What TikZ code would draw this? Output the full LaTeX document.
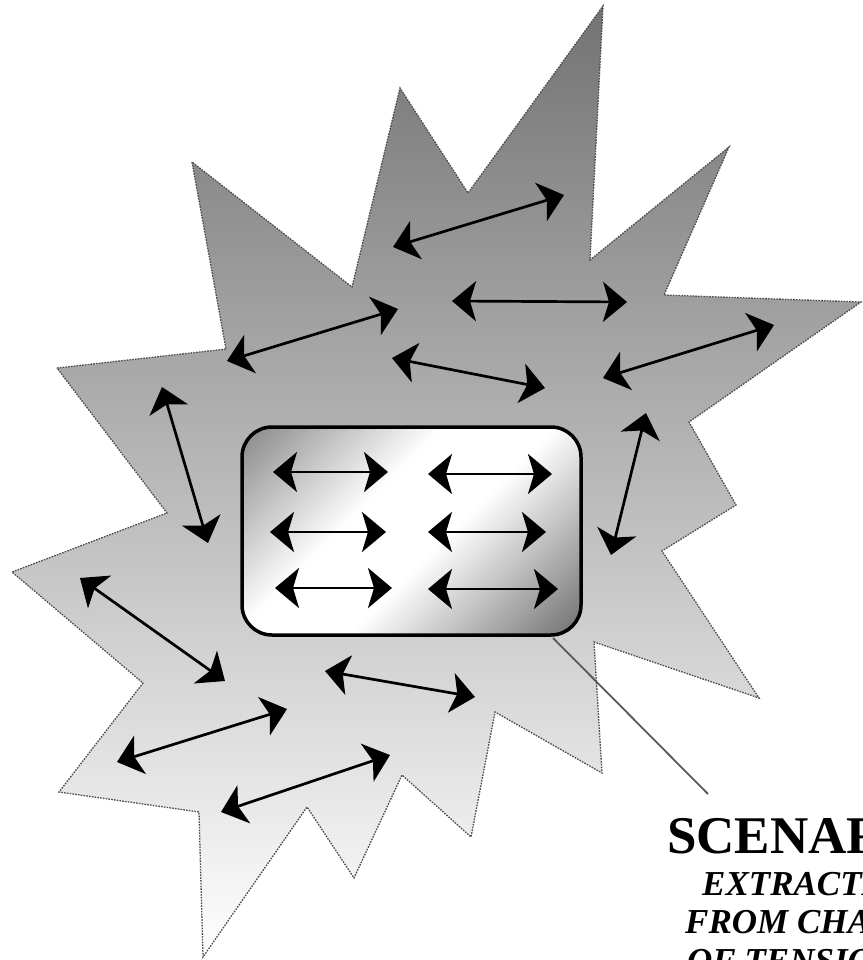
\documentclass[tikz,border=0pt]{standalone}
\usepackage{fontspec}
\setmainfont{Liberation Serif}
\usetikzlibrary{arrows.meta}
\begin{document}
\begin{tikzpicture}[x=1pt,y=-1pt,
  blob/.style={draw=black!70, line width=1.3pt, dash pattern=on 1.6pt off 1.2pt,
               top color=black!55, bottom color=white},
  twoway/.style={line width=2.7pt,
    {Stealth[length=24pt,width=40pt,inset=6pt]}-{Stealth[length=24pt,width=40pt,inset=6pt]}},
  panel/.style={draw=black, line width=3.5pt, rounded corners=30pt,
    minimum width=339pt, minimum height=208pt, inner sep=0pt},
  callout/.style={draw=black!65, line width=1.8pt},
  titletext/.style={anchor=base west, inner sep=0pt, font=\fontsize{53}{60}\selectfont\bfseries},
  subtext/.style={anchor=base west, inner sep=0pt, font=\fontsize{35}{40}\selectfont\bfseries\itshape}
]
\useasboundingbox (0,0) rectangle (862,960);
\clip (0,0) rectangle (862,960);

% outer burst
\path[blob] (57,368) -- (226,349) -- (192,162) -- (352,287) -- (400,88) -- (468,193)
  -- (603,6) -- (590,260) -- (729,147) -- (664,295) -- (861,302) -- (689,422)
  -- (736,505) -- (662,551) -- (759,698) -- (594,642) -- (602,773) -- (495,712)
  -- (471,837) -- (402,775) -- (354,878) -- (307,807) -- (203,957) -- (199,812)
  -- (59,792) -- (143,683) -- (12,572) -- (167,513) -- cycle;

% inner panel: diagonal gray-white-gray fill built from bands
\begin{scope}
  \clip[rounded corners=30pt] (242,427) rectangle (581,635);
  \foreach \i in {0,...,99}{
    \pgfmathsetmacro\ta{-200+4*\i}
    \pgfmathsetmacro\tb{\ta+4.8}
    \pgfmathsetmacro\tm{\ta+2}
    \pgfmathsetmacro\p{\tm<-50 ? 50*(-50-\tm)/150 : (\tm>30 ? 57*(\tm-30)/165 : 0)}
    \fill[black!\p]
      ({411.5+0.7071*\ta+0.7071*260},{531+0.7071*\ta-0.7071*260}) --
      ({411.5+0.7071*\tb+0.7071*260},{531+0.7071*\tb-0.7071*260}) --
      ({411.5+0.7071*\tb-0.7071*260},{531+0.7071*\tb+0.7071*260}) --
      ({411.5+0.7071*\ta-0.7071*260},{531+0.7071*\ta+0.7071*260}) -- cycle;
  }
\end{scope}
\node[panel] (box) at (411.5,531) {};

% arrows inside the panel
\draw[twoway] (273,472) -- (388,472);
\draw[twoway] (428,474) -- (552,474);
\draw[twoway] (270,532) -- (386,532);
\draw[twoway] (428,532) -- (546,532);
\draw[twoway] (275,588) -- (392,588);
\draw[twoway] (428,589) -- (558,589);

% arrows in the burst
\draw[twoway] (393,247) -- (564,195);
\draw[twoway] (452,301) -- (627,302);
\draw[twoway] (227,361) -- (398,309);
\draw[twoway] (392,358) -- (545,388);
\draw[twoway] (603,378) -- (774,325);
\draw[twoway] (162,387) -- (208,543);
\draw[twoway] (646,413) -- (611,555);
\draw[twoway] (80,578) -- (225,681);
\draw[twoway] (325,671) -- (475,697);
\draw[twoway] (117,762) -- (287,709);
\draw[twoway] (221,812) -- (390,755);

% callout
\coordinate (cstart) at (553,638);
\coordinate (cend) at (708,794);
\draw[callout] (cstart) -- (cend);

% caption
\node[titletext] (title) at (667,853) {SCENAR};
\node[subtext] (l1) at (702,895) {EXTRACTI};
\node[subtext] (l2) at (685,933) {FROM CHA};
\node[subtext] (l3) at (687,972) {OF TENSIO};
\end{tikzpicture}
\end{document}
